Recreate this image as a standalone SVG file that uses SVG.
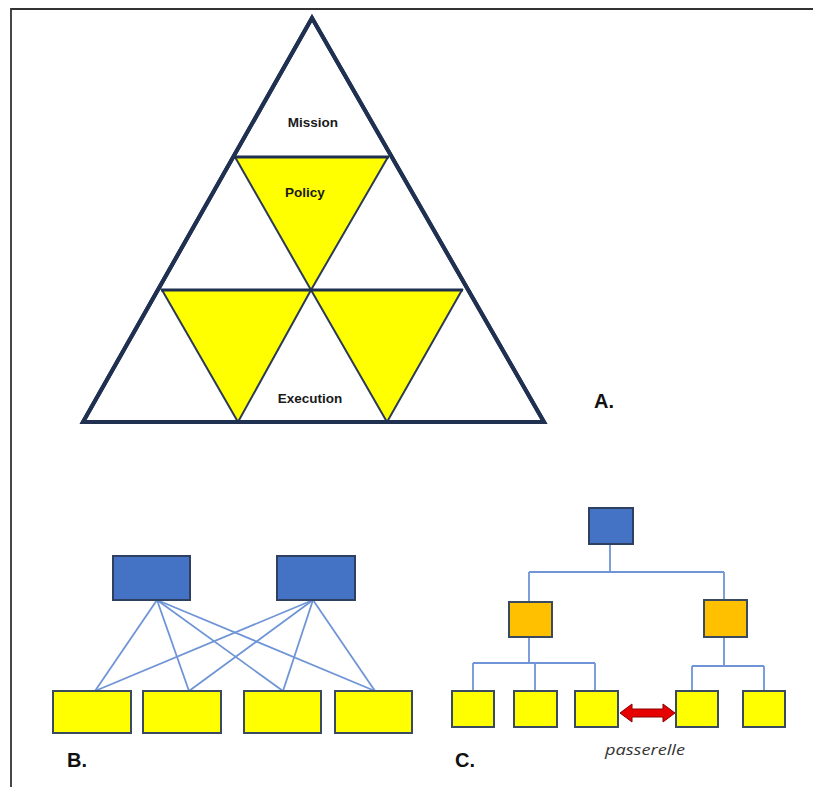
<svg xmlns="http://www.w3.org/2000/svg" width="813" height="787" viewBox="0 0 813 787">
<style>
.lbl{font-family:"Liberation Sans",Arial,sans-serif;font-weight:bold;fill:#1a1a1a;text-anchor:middle}
.tri{fill:#ffff00;stroke:#2b3a55;stroke-width:2;stroke-linejoin:miter}
.out{fill:none;stroke:#1f3050;stroke-width:4;stroke-linejoin:miter}
.hl{stroke:#1f3050;stroke-width:3}
.blue{fill:#4472c4;stroke:#2f3f5f;stroke-width:2}
.yel{fill:#ffff00;stroke:#3a4a60;stroke-width:2}
.org{fill:#ffc000;stroke:#3a4a60;stroke-width:2}
.cn{stroke:#6f95d6;stroke-width:1.8;fill:none}
.big{font-family:"Liberation Sans",Arial,sans-serif;font-weight:bold;font-size:20px;fill:#111}
</style>
<g id="frame">
<path d="M11,787 V9 H813" fill="none" stroke="#333" stroke-width="1.8"/>
</g>
<g id="pyramid">
<polygon class="out" points="312,18 83,422 544,422" fill="#fff"/>
<g id="policy"><polygon class="tri" points="235,157 388,157 311,290"/></g>
<g id="exec-left"><polygon class="tri" points="162,290 311,290 238,422"/></g>
<g id="exec-right"><polygon class="tri" points="311,290 462,290 387,422"/></g>
<line class="hl" x1="234" y1="157" x2="389" y2="157"/>
<line class="hl" x1="161" y1="290" x2="463" y2="290"/>
<polygon class="out" points="312,18 83,422 544,422"/>
<text class="lbl" x="313" y="127" font-size="13.5">Mission</text>
<text class="lbl" x="305" y="197" font-size="13.5">Policy</text>
<text class="lbl" x="310" y="403" font-size="13.5">Execution</text>
</g>
<text class="big" x="594" y="408">A.</text>
<g id="B-connectors">
<line class="cn" x1="157" y1="600" x2="95" y2="691"/>
<line class="cn" x1="157" y1="600" x2="189" y2="691"/>
<line class="cn" x1="157" y1="600" x2="283" y2="691"/>
<line class="cn" x1="157" y1="600" x2="375" y2="691"/>
<line class="cn" x1="313" y1="600" x2="95" y2="691"/>
<line class="cn" x1="313" y1="600" x2="189" y2="691"/>
<line class="cn" x1="313" y1="600" x2="283" y2="691"/>
<line class="cn" x1="313" y1="600" x2="375" y2="691"/>
</g>
<g id="B-top1"><rect class="blue" x="113" y="556" width="77" height="44"/></g>
<g id="B-top2"><rect class="blue" x="277" y="556" width="78" height="44"/></g>
<g id="B-bot1"><rect class="yel" x="53" y="691" width="78" height="42"/></g>
<g id="B-bot2"><rect class="yel" x="143" y="691" width="78" height="42"/></g>
<g id="B-bot3"><rect class="yel" x="244" y="691" width="77" height="42"/></g>
<g id="B-bot4"><rect class="yel" x="335" y="691" width="77" height="42"/></g>
<text class="big" x="67" y="767">B.</text>
<g id="C-connectors">
<path class="cn" d="M610,544 V572 M529,572 H724 M529,572 V602 M724,572 V600"/>
<path class="cn" d="M529,637 V663 M473,663 H595 M473,663 V691 M535,663 V691 M595,663 V691"/>
<path class="cn" d="M724,637 V666 M692,666 H764 M692,666 V691 M764,666 V691"/>
</g>
<g id="C-root"><rect class="blue" x="589" y="508" width="44" height="36"/></g>
<g id="C-mid1"><rect class="org" x="509" y="602" width="43" height="35"/></g>
<g id="C-mid2"><rect class="org" x="704" y="600" width="43" height="37"/></g>
<g id="C-leaf1"><rect class="yel" x="452" y="691" width="42" height="36"/></g>
<g id="C-leaf2"><rect class="yel" x="514" y="691" width="43" height="36"/></g>
<g id="C-leaf3"><rect class="yel" x="575" y="691" width="43" height="36"/></g>
<g id="C-leaf4"><rect class="yel" x="676" y="691" width="42" height="36"/></g>
<g id="C-leaf5"><rect class="yel" x="743" y="691" width="42" height="36"/></g>
<g id="passerelle">
<polygon points="620,713 632,704 632,709 663,709 663,704 675,713 663,722 663,717 632,717 632,722" fill="#e60000" stroke="#8b0000" stroke-width="1"/>
<text x="605" y="755" font-family="'Open Sans','Liberation Sans',sans-serif" font-style="italic" font-size="14.5" fill="#333" textLength="80" lengthAdjust="spacingAndGlyphs">passerelle</text>
</g>
<text class="big" x="455" y="767">C.</text>
</svg>
